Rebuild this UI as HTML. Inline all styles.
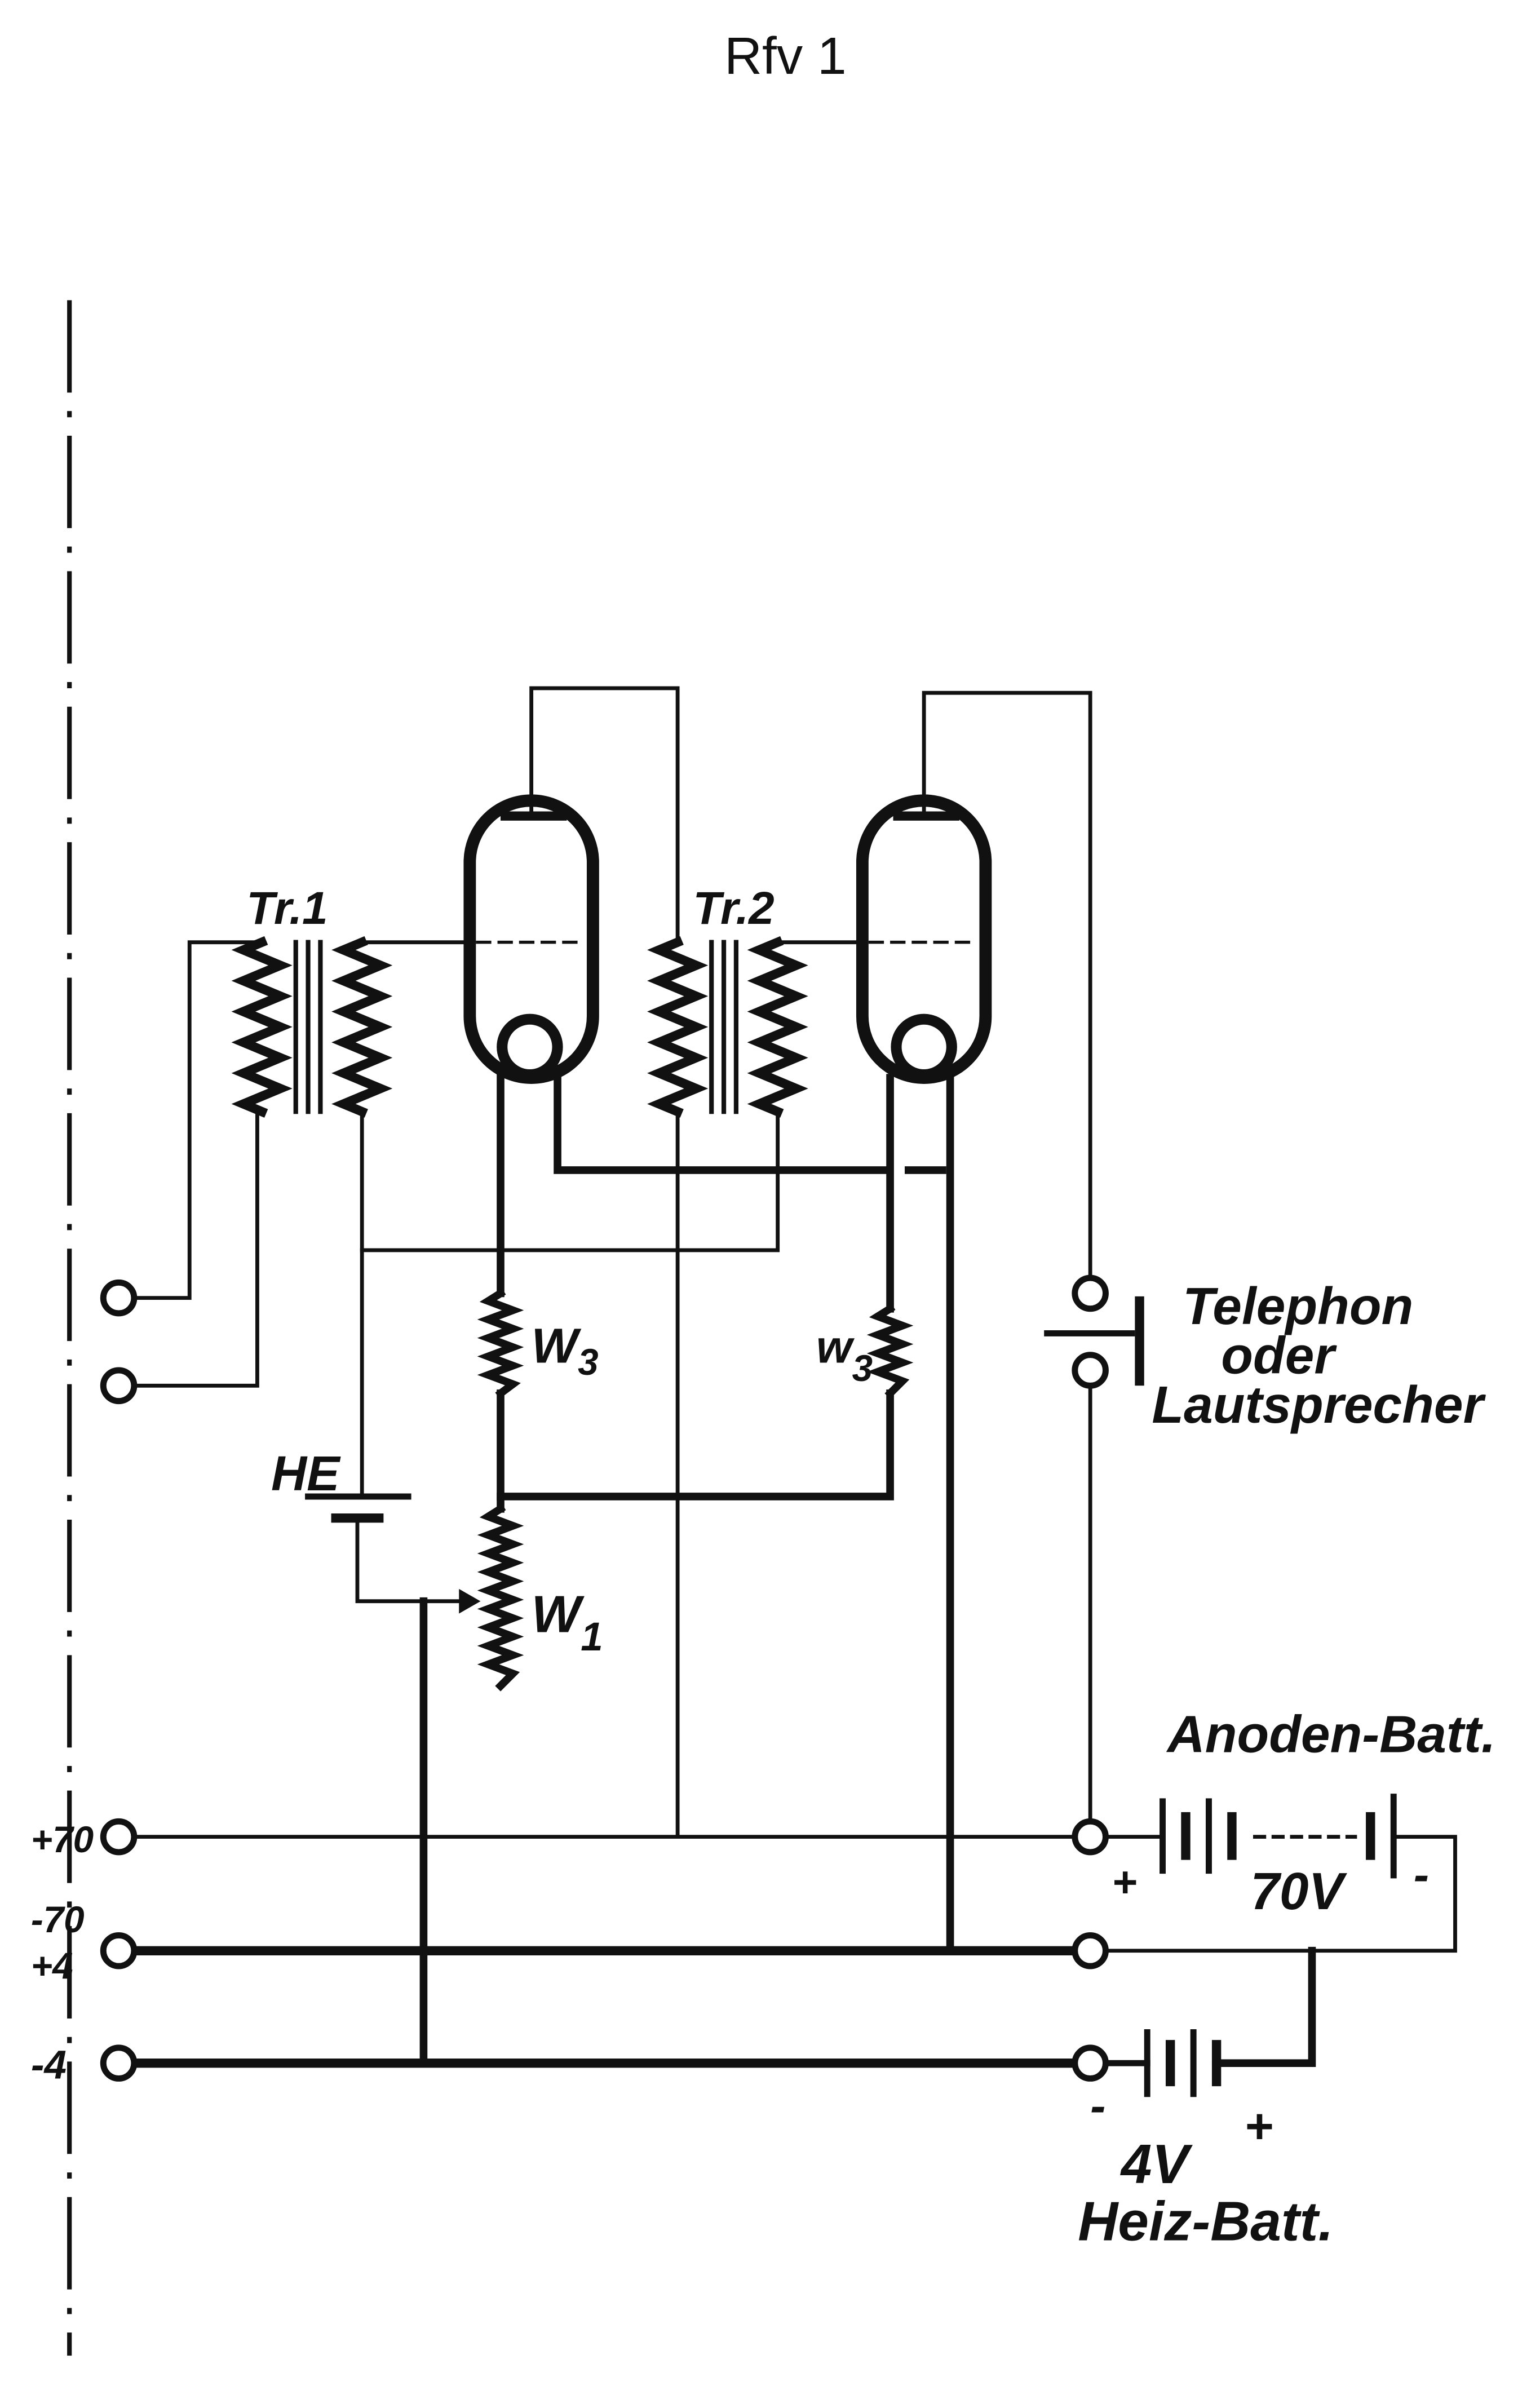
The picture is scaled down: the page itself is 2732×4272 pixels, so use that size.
<!DOCTYPE html>
<html><head><meta charset="utf-8">
<style>
html,body{margin:0;padding:0;background:#fff;}
svg{display:block;}
text{font-family:"Liberation Sans",sans-serif;fill:#111;}
.lb{font-style:italic;font-weight:bold;}
</style></head><body>
<svg width="2732" height="4272" viewBox="0 0 1000 1564" xmlns="http://www.w3.org/2000/svg">
<rect width="1000" height="1564" fill="#fff"/>
<text x="510" y="48" font-size="34" text-anchor="middle">Rfv 1</text>
<line x1="45" y1="195" x2="45" y2="1530" stroke="#111" stroke-width="3" stroke-dasharray="60,12,4,12"/>

<g fill="none" stroke="#111" stroke-linecap="square">
<rect x="305" y="520" width="80" height="180" rx="40" stroke-width="8"/>
<rect x="560" y="520" width="80" height="180" rx="40" stroke-width="8"/>
<circle cx="344" cy="680" r="18" stroke-width="7"/>
<circle cx="600" cy="680" r="18" stroke-width="7"/>
<line x1="328" y1="530" x2="365" y2="530" stroke-width="6"/>
<line x1="583" y1="530" x2="620" y2="530" stroke-width="6"/>
<line x1="310" y1="612" x2="380" y2="612" stroke-width="2" stroke-dasharray="8,6"/>
<line x1="565" y1="612" x2="635" y2="612" stroke-width="2" stroke-dasharray="8,6"/>
<polyline points="345,530 345,447 440,447 440,612" stroke-width="2.5"/>
<polyline points="600,530 600,450 708,450 708,830" stroke-width="2.5"/>
<line x1="440" y1="722" x2="440" y2="1193" stroke-width="2.5"/>
<polyline points="170,612 158,617 182,627 158,637 182,647 158,657 182,667 158,677 182,687 158,697 182,707 158,717 170,722" stroke-width="6"/>
<polyline points="235,612 223,617 247,627 223,637 247,647 223,657 247,667 223,677 247,687 223,697 247,707 223,717 235,722" stroke-width="6"/>
<line x1="192" y1="612" x2="192" y2="722" stroke-width="3"/>
<line x1="200" y1="612" x2="200" y2="722" stroke-width="3"/>
<line x1="208" y1="612" x2="208" y2="722" stroke-width="3"/>
<polyline points="170,612 123,612 123,843 87,843" stroke-width="2.5"/>
<polyline points="170,722 167,722 167,900 87,900" stroke-width="2.5"/>
<polyline points="235,612 305,612" stroke-width="2.5"/>
<line x1="235" y1="722" x2="235" y2="972" stroke-width="2.5"/>
<polyline points="440,612 428,617 452,627 428,637 452,647 428,657 452,667 428,677 452,687 428,697 452,707 428,717 440,722" stroke-width="6"/>
<polyline points="505,612 493,617 517,627 493,637 517,647 493,657 517,667 493,677 517,687 493,697 517,707 493,717 505,722" stroke-width="6"/>
<line x1="462" y1="612" x2="462" y2="722" stroke-width="3"/>
<line x1="470" y1="612" x2="470" y2="722" stroke-width="3"/>
<line x1="478" y1="612" x2="478" y2="722" stroke-width="3"/>
<line x1="505" y1="612" x2="560" y2="612" stroke-width="2.5"/>
<polyline points="235,812 505,812 505,722" stroke-width="2.5"/>
<line x1="325" y1="700" x2="325" y2="840" stroke-width="5"/>
<polyline points="325,840 317,845 333,851 317,857 333,863 317,869 333,875 317,881 333,887 317,893 333,899 325,905" stroke-width="5"/>
<line x1="325" y1="905" x2="325" y2="980" stroke-width="5"/>
<polyline points="362,700 362,760 575,760" stroke-width="5"/>
<line x1="590" y1="760" x2="612" y2="760" stroke-width="5"/>
<line x1="578" y1="700" x2="578" y2="850" stroke-width="5"/>
<polyline points="578,850 570,855 586,861 570,867 586,873 570,879 586,885 570,891 586,897 578,905" stroke-width="5"/>
<polyline points="578,905 578,972 325,972" stroke-width="5"/>
<line x1="617" y1="700" x2="617" y2="1267" stroke-width="5"/>
<polyline points="325,980 317,985 333,991 317,997 333,1003 317,1009 333,1015 317,1021 333,1027 317,1033 333,1039 317,1045 333,1051 317,1057 333,1063 317,1069 333,1075 317,1081 333,1087 325,1095" stroke-width="5"/>
<line x1="200" y1="972" x2="265" y2="972" stroke-width="4"/>
<line x1="218" y1="986" x2="246" y2="986" stroke-width="6"/>
<polyline points="232,986 232,1040 300,1040" stroke-width="2.5"/>
<line x1="275" y1="1040" x2="275" y2="1340" stroke-width="5"/>
<line x1="87" y1="1193" x2="698" y2="1193" stroke-width="2.5"/>
<line x1="87" y1="1267" x2="698" y2="1267" stroke-width="6"/>
<line x1="87" y1="1340" x2="698" y2="1340" stroke-width="6"/>
<line x1="708" y1="900" x2="708" y2="1183" stroke-width="2.5"/>
<line x1="680" y1="866" x2="735" y2="866" stroke-width="4"/>
<line x1="740" y1="845" x2="740" y2="897" stroke-width="6"/>
<line x1="718" y1="1193" x2="755" y2="1193" stroke-width="2.5"/>
<line x1="755" y1="1170" x2="755" y2="1215" stroke-width="4"/>
<line x1="770" y1="1180" x2="770" y2="1205" stroke-width="6"/>
<line x1="785" y1="1170" x2="785" y2="1215" stroke-width="4"/>
<line x1="800" y1="1180" x2="800" y2="1205" stroke-width="6"/>
<line x1="815" y1="1193" x2="880" y2="1193" stroke-width="2.5" stroke-dasharray="6,6"/>
<line x1="890" y1="1180" x2="890" y2="1205" stroke-width="6"/>
<line x1="905" y1="1167" x2="905" y2="1218" stroke-width="4"/>
<polyline points="905,1193 945,1193 945,1267 718,1267" stroke-width="2.5"/>
<line x1="718" y1="1340" x2="745" y2="1340" stroke-width="4"/>
<line x1="745" y1="1320" x2="745" y2="1360" stroke-width="4"/>
<line x1="760" y1="1328" x2="760" y2="1352" stroke-width="6"/>
<line x1="775" y1="1320" x2="775" y2="1360" stroke-width="4"/>
<line x1="790" y1="1328" x2="790" y2="1352" stroke-width="6"/>
<polyline points="790,1340 852,1340 852,1267" stroke-width="5"/>
<g stroke-width="4" fill="#fff">
<circle cx="77" cy="843" r="10"/><circle cx="77" cy="900" r="10"/>
<circle cx="77" cy="1193" r="10"/><circle cx="77" cy="1267" r="10"/><circle cx="77" cy="1340" r="10"/>
<circle cx="708" cy="1193" r="10"/><circle cx="708" cy="1267" r="10"/><circle cx="708" cy="1340" r="10"/>
<circle cx="708" cy="840" r="10"/><circle cx="708" cy="890" r="10"/>
</g>
</g>
<polygon points="312,1040 298,1032 298,1048" fill="#111"/>

<g class="lb">
<text x="160" y="600" font-size="30">Tr.1</text>
<text x="450" y="600" font-size="30">Tr.2</text>
<text x="176" y="968" font-size="32">HE</text>
<text x="345" y="885" font-size="32">W<tspan font-size="24" dy="8">3</tspan></text>
<text x="530" y="885" font-size="30">w<tspan font-size="24" dy="12">3</tspan></text>
<text x="345" y="1060" font-size="34">W<tspan font-size="26" dy="12">1</tspan></text>
<text x="768" y="860" font-size="34">Telephon</text>
<text x="793" y="892" font-size="34">oder</text>
<text x="748" y="924" font-size="34">Lautsprecher</text>
<text x="758" y="1138" font-size="34">Anoden-Batt.</text>
<text x="812" y="1240" font-size="34">70V</text>
<text x="722" y="1232" font-size="28">+</text>
<text x="918" y="1228" font-size="30">-</text>
<text x="708" y="1378" font-size="30">-</text>
<text x="808" y="1392" font-size="32">+</text>
<text x="728" y="1418" font-size="36">4V</text>
<text x="700" y="1455" font-size="36">Heiz-Batt.</text>
<text x="20" y="1203" font-size="24">+70</text>
<text x="20" y="1255" font-size="24">-70</text>
<text x="20" y="1285" font-size="24">+4</text>
<text x="20" y="1350" font-size="26">-4</text>
</g>
</svg>
</body></html>
